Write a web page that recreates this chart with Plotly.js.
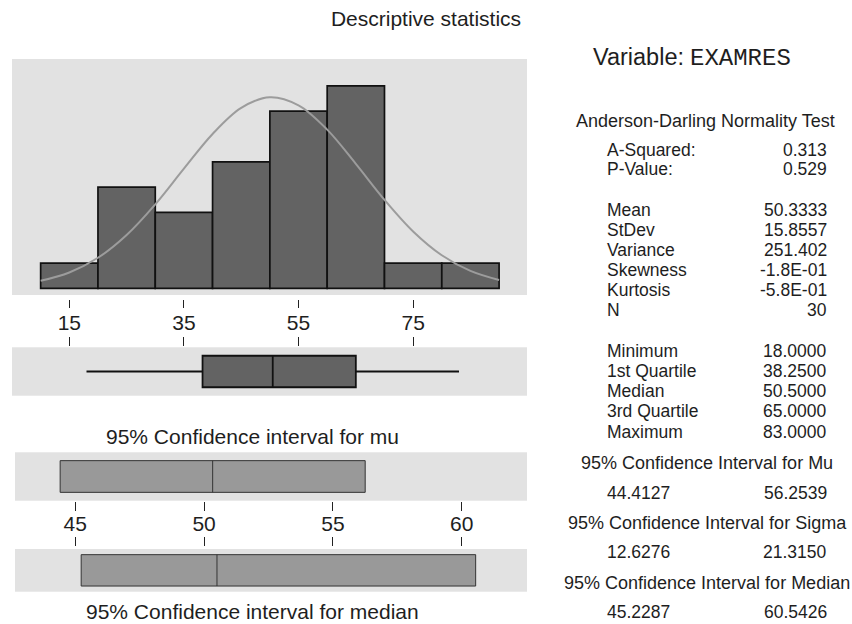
<!DOCTYPE html>
<html>
<head>
<meta charset="utf-8">
<script src="https://cdn.plot.ly/plotly-3.0.1.min.js"></script>
<style>html,body{margin:0;padding:0;background:#fff;}#chart{width:852px;height:624px;}</style>
</head>
<body>
<div id="chart"></div>
<script>
// ---- data ----
const binCenters = [15, 25, 35, 45, 55, 65, 75, 85];
const binCounts = [1, 4, 3, 5, 7, 8, 1, 1];
const binWidth = 10;
const curveX = [10, 15, 20, 25, 30, 35, 40, 45, 50, 55, 60, 65, 70, 75, 80, 85, 90];
const curveY = [0.30, 0.63, 1.21, 2.11, 3.32, 4.73, 6.10, 7.13, 7.55, 7.23, 6.27, 4.92, 3.50, 2.25, 1.31, 0.69, 0.33];
const histTicks = [15, 35, 55, 75];
const boxMin = 18, boxQ1 = 38.25, boxMedian = 50.5, boxQ3 = 65, boxMax = 83;
const ciMu = [44.4127, 50.3333, 56.2539];
const ciMedian = [45.2287, 50.5, 60.5426];
const ciTicks = [45, 50, 55, 60];

const variableName = "EXAMRES";
const adTitle = "Anderson-Darling Normality Test";
const adLabels = ["A-Squared:", "P-Value:"];
const adValues = ["0.313", "0.529"];
const descLabels = ["Mean", "StDev", "Variance", "Skewness", "Kurtosis", "N"];
const descValues = ["50.3333", "15.8557", "251.402", "-1.8E-01", "-5.8E-01", "30"];
const quantLabels = ["Minimum", "1st Quartile", "Median", "3rd Quartile", "Maximum"];
const quantValues = ["18.0000", "38.2500", "50.5000", "65.0000", "83.0000"];
const ciHeads = ["95% Confidence Interval for Mu", "95% Confidence Interval for Sigma", "95% Confidence Interval for Median"];
const ciLow = ["44.4127", "12.6276", "45.2287"];
const ciHigh = ["56.2539", "21.3150", "60.5426"];

// ---- layout helpers ----
const W = 852, H = 624;
const FONT = "Liberation Sans, Arial, Helvetica, sans-serif";
const TXT = "#1e1e1e";
const px = v => v / W;
const py = v => 1 - v / H;

const traces = [
  {type: 'bar', x: binCenters, y: binCounts, width: binWidth, xaxis: 'x', yaxis: 'y',
   marker: {color: '#636363', line: {color: '#111', width: 1.7}}, hoverinfo: 'skip'},
  {type: 'scatter', mode: 'lines', x: curveX, y: curveY, xaxis: 'x', yaxis: 'y',
   line: {color: '#9c9c9c', width: 2, shape: 'spline'}, hoverinfo: 'skip'},
  {type: 'box', orientation: 'h', y: [0], q1: [boxQ1], median: [boxMedian], q3: [boxQ3],
   lowerfence: [boxMin], upperfence: [boxMax], xaxis: 'x2', yaxis: 'y2', width: 0.65,
   whiskerwidth: 0, boxpoints: false, fillcolor: '#636363', line: {color: '#111', width: 1.8}, hoverinfo: 'skip'},
  {type: 'box', orientation: 'h', y: [0], q1: [ciMu[0]], median: [ciMu[1]], q3: [ciMu[2]],
   lowerfence: [ciMu[0]], upperfence: [ciMu[2]], xaxis: 'x3', yaxis: 'y3', width: 0.655,
   whiskerwidth: 0, boxpoints: false, fillcolor: '#999999', line: {color: '#333', width: 1}, hoverinfo: 'skip'},
  {type: 'box', orientation: 'h', y: [0], q1: [ciMedian[0]], median: [ciMedian[1]], q3: [ciMedian[2]],
   lowerfence: [ciMedian[0]], upperfence: [ciMedian[2]], xaxis: 'x4', yaxis: 'y4', width: 0.735,
   whiskerwidth: 0, boxpoints: false, fillcolor: '#999999', line: {color: '#333', width: 1}, hoverinfo: 'skip'}
];

const histRange = [5, 94.87];
const ciRange = [42.66, 62.535];
const baseX = {showgrid: false, zeroline: false, showline: false, fixedrange: true,
  tickcolor: '#222', tickwidth: 1, tickfont: {family: FONT, size: 21, color: TXT}};
const baseY = {showgrid: false, zeroline: false, showline: false, showticklabels: false, ticks: '', fixedrange: true};

const layout = {
  width: W, height: H,
  margin: {l: 0, r: 0, t: 0, b: 0},
  paper_bgcolor: '#ffffff', plot_bgcolor: '#e2e2e2',
  showlegend: false,
  font: {family: FONT, color: TXT},
  title: {text: 'Descriptive statistics', x: 0.5, xanchor: 'center', y: py(19), yanchor: 'middle',
          font: {family: FONT, size: 21, color: TXT}},
  xaxis: Object.assign({}, baseX, {domain: [px(12), px(527)], range: histRange, anchor: 'free', position: py(299),
          side: 'bottom', ticks: 'outside', ticklen: 8, tickvals: histTicks, ticktext: histTicks.map(String),
          ticklabelstandoff: -3}),
  yaxis: Object.assign({}, baseY, {domain: [py(295), py(59)], range: [-0.26, 9.06], anchor: 'x'}),
  xaxis2: Object.assign({}, baseX, {domain: [px(12), px(527)], range: histRange, anchor: 'y2',
          side: 'top', ticks: 'outside', ticklen: 9, tickvals: histTicks, showticklabels: false}),
  yaxis2: Object.assign({}, baseY, {domain: [py(395.7), py(347.3)], range: [-0.5, 0.5], anchor: 'x2'}),
  xaxis3: Object.assign({}, baseX, {domain: [px(15), px(527)], range: ciRange, anchor: 'y3',
          side: 'bottom', ticks: 'outside', ticklen: 9, tickvals: ciTicks, ticktext: ciTicks.map(String),
          ticklabelstandoff: -5}),
  yaxis3: Object.assign({}, baseY, {domain: [py(500.7), py(452.3)], range: [-0.5, 0.5], anchor: 'x3'}),
  xaxis4: Object.assign({}, baseX, {domain: [px(15), px(527)], range: ciRange, anchor: 'free', position: py(546),
          side: 'top', ticks: 'outside', ticklen: 9, tickvals: ciTicks, showticklabels: false}),
  yaxis4: Object.assign({}, baseY, {domain: [py(591.7), py(549)], range: [-0.5, 0.5], anchor: 'x4'}),
  annotations: []
};

function ann(text, x, y, xanchor, size, family) {
  layout.annotations.push({text: text, xref: 'paper', yref: 'paper', x: px(x), y: py(y),
    xanchor: xanchor, yanchor: 'middle', showarrow: false,
    font: {family: family || FONT, size: size, color: TXT}});
}

ann('95% Confidence interval for mu', 252, 436, 'center', 21);
ann('95% Confidence interval for median', 252.5, 611, 'center', 21);

ann('Variable:', 591, 57, 'left', 23.5);
ann(variableName, 793, 58, 'right', 24, 'Liberation Mono, Courier New, monospace');
ann(adTitle, 705, 121, 'center', 18);

const LX = 605, RX = 829, FS = 17.5;
adLabels.forEach((t, i) => { ann(t, LX, 150 + i * 18.5, 'left', FS); ann(adValues[i], RX, 150 + i * 18.5, 'right', FS); });
descLabels.forEach((t, i) => { ann(t, LX, 210 + i * 20, 'left', FS); ann(descValues[i], RX, 210 + i * 20, 'right', FS); });
quantLabels.forEach((t, i) => { ann(t, LX, 350.7 + i * 20.2, 'left', FS); ann(quantValues[i], RX, 350.7 + i * 20.2, 'right', FS); });
ciHeads.forEach((t, i) => {
  const y0 = 463.3 + i * 59.7;
  ann(t, 707, y0, 'center', 18);
  ann(ciLow[i], LX, y0 + 29.3, 'left', FS);
  ann(ciHigh[i], RX, y0 + 29.3, 'right', FS);
});

Plotly.newPlot('chart', traces, layout, {staticPlot: true, displayModeBar: false});
</script>
</body>
</html>
